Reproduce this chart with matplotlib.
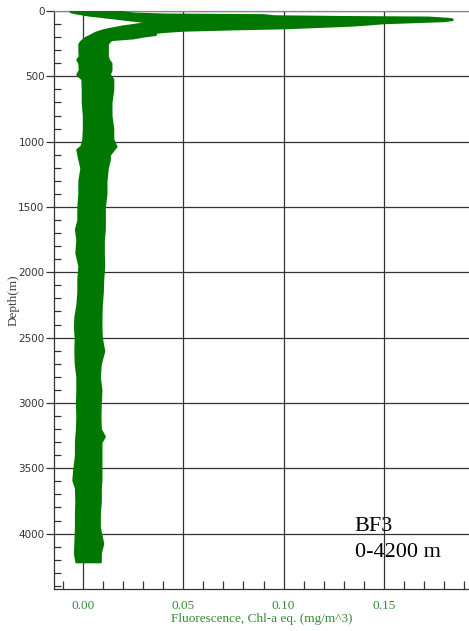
import matplotlib
matplotlib.use("Agg")
import matplotlib.pyplot as plt
from matplotlib.ticker import MultipleLocator, FixedLocator
import numpy as np

# ---- data (envelope of the fluorescence profile) ----
depth = [0, 5, 12, 18, 25, 30, 38, 44, 48, 58, 64, 72, 80, 88, 100, 107, 115,
         127, 135, 145, 155, 165, 178, 190, 204, 217, 230,
         250, 300, 345, 370, 400, 450, 485, 520, 600, 700, 800, 900, 980,
         1035, 1060, 1100, 1137, 1200, 1300, 1400, 1500, 1600, 1670, 1750,
         1850, 1950, 2050, 2150, 2250, 2340, 2420, 2500, 2600, 2700, 2800,
         2900, 3000, 3100, 3200, 3255, 3300, 3400, 3500, 3590, 3650, 3750,
         3850, 3950, 4075, 4150, 4214]
fluor_min = [-0.0065, -0.006, -0.004, -0.0015, 0.001, 0.003, 0.008, 0.011,
             0.0135, 0.019, 0.022, 0.027, 0.031, 0.0335, 0.027, 0.024, 0.020,
             0.016, 0.013, 0.010, 0.008, 0.006, 0.0045, 0.003, 0.001, 0.0,
             -0.001,
             -0.002, -0.002, -0.0018, -0.003, -0.002, -0.0018, -0.003, -0.0005,
             -0.0003, -0.0003, 0.0003, 0.0003, 0.0,
             -0.001, -0.003, -0.0025, -0.002, -0.001, -0.002, -0.002, -0.0025,
             -0.0025, -0.0037, -0.003,
             -0.0035, -0.002, -0.0025, -0.0025, -0.003, -0.004, -0.0042,
             -0.0038, -0.004, -0.0038, -0.003,
             -0.003, -0.0032, -0.003, -0.0032, -0.0035, -0.0037, -0.0037,
             -0.0045, -0.005, -0.0037, -0.0035,
             -0.0037, -0.0037, -0.004, -0.0042, -0.0035]
fluor_max = [0.018, 0.019, 0.022, 0.026, 0.040, 0.090, 0.095, 0.130, 0.172,
             0.182, 0.184, 0.180, 0.165, 0.150, 0.140, 0.133, 0.120,
             0.100, 0.075, 0.050, 0.040, 0.034, 0.036, 0.030, 0.025, 0.014,
             0.013,
             0.012, 0.012, 0.012, 0.0125, 0.0138, 0.0138, 0.013, 0.0147,
             0.0147, 0.0138, 0.0138, 0.0147, 0.0147,
             0.0163, 0.015, 0.013, 0.013, 0.012, 0.0113, 0.0113, 0.0105,
             0.0105, 0.0105, 0.010,
             0.010, 0.0102, 0.0097, 0.0095, 0.009, 0.0088, 0.0088,
             0.009, 0.0102, 0.0085, 0.008,
             0.0088, 0.0085, 0.0083, 0.0085, 0.0105, 0.0088, 0.0088,
             0.0088, 0.0088, 0.0085, 0.0085,
             0.008, 0.008, 0.0097, 0.0085, 0.0085]

x_ticks = [0.00, 0.05, 0.10, 0.15]
x_ticklabels = ["0.00", "0.05", "0.10", "0.15"]
y_ticks = [0, 500, 1000, 1500, 2000, 2500, 3000, 3500, 4000]
station_label = "BF3"
range_label = "0-4200 m"

# ---- figure ----
W, H, DPI = 469, 631, 100
fig = plt.figure(figsize=(W / DPI, H / DPI), dpi=DPI)
left, right, top, bottom = 54 / W, 1.0, 1 - 11 / H, 1 - 589 / H
ax = fig.add_axes([left, bottom, right - left, top - bottom])

green = "#007800"
poly = ax.fill_betweenx(depth, fluor_min, fluor_max, color=green,
                        linewidth=1.8, edgecolor=green, zorder=3)
poly.set_joinstyle("round")

ax.set_xlim(-0.0145, 0.1925)
ax.set_ylim(4424, 0)

ax.set_axisbelow(True)
ax.xaxis.set_major_locator(FixedLocator(x_ticks))
ax.set_xticklabels(x_ticklabels)
ax.xaxis.set_minor_locator(MultipleLocator(0.01))
ax.yaxis.set_major_locator(FixedLocator(y_ticks))
ax.yaxis.set_minor_locator(MultipleLocator(100))
ax.grid(True, which="major", color="#333333", linewidth=0.9, zorder=0)

ax.tick_params(axis="x", which="major", length=0, pad=8, labelcolor="#3a8a3a",
               labelsize=9.5)
ax.tick_params(axis="x", which="minor", direction="in", length=6, width=0.9,
               color="#333333")
ax.tick_params(axis="y", which="major", direction="out", length=6, width=0.9,
               pad=0.8, labelcolor="#333333", labelsize=7.5, color="#333333")
ax.tick_params(axis="y", which="minor", direction="in", length=5, width=0.9,
               color="#333333")
for lab in ax.get_xticklabels():
    lab.set_fontfamily("Liberation Serif")
for lab in ax.get_yticklabels():
    lab.set_fontfamily("DejaVu Sans")

ax.spines["right"].set_visible(False)
ax.spines["top"].set_color("#888888")
ax.spines["left"].set_color("#333333")
ax.spines["bottom"].set_color("#333333")
for s in ax.spines.values():
    s.set_linewidth(0.9)

ax.set_xlabel("Fluorescence, Chl-a eq. (mg/m^3)", family="Liberation Serif",
              fontsize=9.5, color="#3a8a3a", labelpad=0.5)
ax.set_ylabel("Depth(m)", family="Liberation Serif", fontsize=9.5,
              color="#444444", labelpad=-1)

ax.text(0.1355, 3949, station_label, family="Liberation Serif", fontsize=16,
        color="black", ha="left", va="center", zorder=5)
ax.text(0.1355, 4148, range_label, family="Liberation Serif", fontsize=16,
        color="black", ha="left", va="center", zorder=5)

fig.savefig("out.png", dpi=DPI)
